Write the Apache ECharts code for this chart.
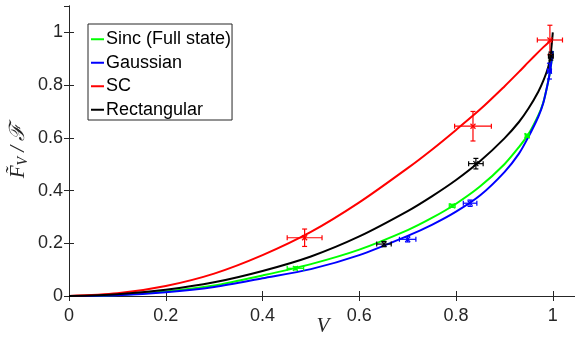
<!DOCTYPE html>
<html>
<head>
<meta charset="utf-8">
<script src="https://cdn.jsdelivr.net/npm/echarts@6/dist/echarts.min.js"></script>
<style>
  html, body { margin: 0; padding: 0; background: #fff; }
  #chart { width: 575px; height: 345px; }
</style>
</head>
<body>
<div id="chart"></div>
<script>
// curves, sampled at curveV
var curveV = [0, 0.1, 0.2, 0.3, 0.4, 0.5, 0.6, 0.7, 0.75, 0.8, 0.85, 0.9, 0.93, 0.95, 0.97, 0.98, 0.99, 0.995, 1];
var sincF = [0, 0.004, 0.017, 0.04, 0.078, 0.121, 0.176, 0.25, 0.296, 0.35, 0.416, 0.5, 0.565, 0.615, 0.685, 0.732, 0.81, 0.86, 0.93];
var gaussF = [0, 0.003, 0.014, 0.034, 0.067, 0.102, 0.155, 0.228, 0.27, 0.32, 0.382, 0.47, 0.54, 0.605, 0.68, 0.73, 0.81, 0.86, 0.93];
var scF = [0, 0.01, 0.038, 0.085, 0.155, 0.243, 0.355, 0.485, 0.555, 0.63, 0.708, 0.795, 0.85, 0.888, 0.925, 0.943, 0.96, 0.968, 0.976];
var rectF = [0, 0.007, 0.024, 0.052, 0.095, 0.15, 0.226, 0.322, 0.378, 0.44, 0.512, 0.598, 0.66, 0.712, 0.775, 0.815, 0.865, 0.908, 1.0];

// measured points with error bars
var sincPtV = [0.468, 0.792, 0.947];
var sincPtF = [0.105, 0.342, 0.608];
var sincPtVErr = [0.017, 0.006, 0.004];
var sincPtFErr = [0.006, 0.006, 0.006];

var gaussPtV = [0.70, 0.829, 0.993];
var gaussPtF = [0.215, 0.352, 0.853];
var gaussPtVErr = [0.017, 0.014, 0.004];
var gaussPtFErr = [0.01, 0.012, 0.03];

var scPtV = [0.487, 0.835, 0.994];
var scPtF = [0.221, 0.644, 0.971];
var scPtVErr = [0.036, 0.038, 0.026];
var scPtFErr = [0.033, 0.056, 0.056];

var rectPtV = [0.651, 0.841, 0.996];
var rectPtF = [0.197, 0.502, 0.91];
var rectPtVErr = [0.015, 0.015, 0.005];
var rectPtFErr = [0.01, 0.02, 0.015];

var xTicks = [0, 0.2, 0.4, 0.6, 0.8, 1];
var yTicks = [0, 0.2, 0.4, 0.6, 0.8, 1];

var names = ["Sinc (Full state)", "Gaussian", "SC", "Rectangular"];
var colors = ["#00ff00", "#0000ff", "#ff0000", "#000000"];

function pairs(xs, ys) {
    var out = [];
    for (var i = 0; i < xs.length; i++) out.push([xs[i], ys[i]]);
    return out;
}

function quads(xs, ys, dxs, dys) {
    var out = [];
    for (var i = 0; i < xs.length; i++) out.push([xs[i], ys[i], dxs[i], dys[i]]);
    return out;
}

function errorBars(color) {
    return function (params, api) {
        var x = api.value(0), y = api.value(1), dx = api.value(2), dy = api.value(3);
        var c = api.coord([x, y]);
        var l = api.coord([x - dx, y]);
        var r = api.coord([x + dx, y]);
        var t = api.coord([x, y + dy]);
        var b = api.coord([x, y - dy]);
        var cap = 2.5, m = 2.5;
        var st = { stroke: color, lineWidth: 1.2, fill: null };
        function seg(x1, y1, x2, y2) {
            return { type: "line", shape: { x1: x1, y1: y1, x2: x2, y2: y2 }, style: st };
        }
        return {
            type: "group",
            children: [
                seg(l[0], l[1], r[0], r[1]),
                seg(l[0], l[1] - cap, l[0], l[1] + cap),
                seg(r[0], r[1] - cap, r[0], r[1] + cap),
                seg(t[0], t[1], b[0], b[1]),
                seg(t[0] - cap, t[1], t[0] + cap, t[1]),
                seg(b[0] - cap, b[1], b[0] + cap, b[1]),
                seg(c[0] - m, c[1] - m, c[0] + m, c[1] + m),
                seg(c[0] - m, c[1] + m, c[0] + m, c[1] - m)
            ]
        };
    };
}

var textColor = "#262626";
var tickFont = { fontFamily: "Liberation Sans", fontSize: 18, color: textColor };

function tickText(list) {
    return function (v) {
        var r = Math.round(v * 10) / 10;
        return list.indexOf(r) >= 0 ? String(r) : "";
    };
}

function desenharGrafico() {
    var chart = echarts.init(document.getElementById("chart"), null, { renderer: "canvas" });
    var curves = [sincF, gaussF, scF, rectF];
    var points = [
        quads(sincPtV, sincPtF, sincPtVErr, sincPtFErr),
        quads(gaussPtV, gaussPtF, gaussPtVErr, gaussPtFErr),
        quads(scPtV, scPtF, scPtVErr, scPtFErr),
        quads(rectPtV, rectPtF, rectPtVErr, rectPtFErr)
    ];
    var series = [];
    for (var i = 0; i < names.length; i++) {
        series.push({
            name: names[i],
            type: "line",
            data: pairs(curveV, curves[i]),
            smooth: 0.3,
            showSymbol: false,
            color: colors[i],
            lineStyle: { width: 2, color: colors[i] },
            z: 2 + i
        });
    }
    for (var j = 0; j < names.length; j++) {
        series.push({
            name: names[j] + " data",
            type: "custom",
            renderItem: errorBars(colors[j]),
            data: points[j],
            z: 10
        });
    }
    var axisLine = { show: true, lineStyle: { color: textColor, width: 1 } };
    var option = {
        animation: false,
        backgroundColor: "#fff",
        grid: { left: 69, top: 6, right: -2, bottom: 49, containLabel: false, outerBoundsMode: "none" },
        xAxis: [
            {
                type: "value", min: 0, max: 1.05, interval: 0.2, position: "bottom",
                splitLine: { show: false }, axisLine: axisLine,
                axisTick: { inside: true, length: 5, lineStyle: { color: textColor } },
                axisLabel: Object.assign({ margin: 11, showMaxLabel: false, formatter: tickText(xTicks) }, tickFont),
                name: "V", nameLocation: "middle", nameGap: 20, nameMoveOverlap: false,
                nameTextStyle: { fontFamily: "Liberation Serif", fontStyle: "italic", fontSize: 21, color: textColor }
            },
            {
                type: "value", min: 0, max: 1.05, interval: 0.2, position: "top",
                splitLine: { show: false }, axisLine: axisLine,
                axisTick: { inside: true, length: 5, lineStyle: { color: textColor } },
                axisLabel: { show: false }
            }
        ],
        yAxis: [
            {
                type: "value", min: 0, max: 1.1, interval: 0.2, position: "left",
                splitLine: { show: false }, axisLine: axisLine,
                axisTick: { inside: true, length: 5, lineStyle: { color: textColor } },
                axisLabel: Object.assign({ margin: 6, showMaxLabel: false, formatter: tickText(yTicks) }, tickFont),
                name: "{f|F\u0303}{s|V}{f| / \u2131}",
                nameLocation: "middle", nameGap: 39, nameRotate: 90, nameMoveOverlap: false,
                nameTextStyle: {
                    color: textColor,
                    rich: {
                        f: { fontFamily: "Liberation Serif", fontStyle: "italic", fontSize: 21, lineHeight: 24, color: textColor },
                        s: { fontFamily: "Liberation Serif", fontStyle: "italic", fontSize: 14, lineHeight: 14, verticalAlign: "bottom", color: textColor }
                    }
                }
            },
            {
                type: "value", min: 0, max: 1.1, interval: 0.2, position: "right",
                splitLine: { show: false }, axisLine: axisLine,
                axisTick: { inside: true, length: 5, lineStyle: { color: textColor } },
                axisLabel: { show: false }
            }
        ],
        legend: {
            data: names,
            orient: "vertical",
            left: 88, top: 24,
            icon: "rect", itemWidth: 13, itemHeight: 2, itemGap: 5,
            padding: [6, 1, 1, 3],
            backgroundColor: "#fff",
            borderColor: textColor, borderWidth: 1, borderRadius: 0,
            selectedMode: false,
            textStyle: { fontFamily: "Liberation Sans", fontSize: 18, lineHeight: 18.5, color: "#000", padding: [0, 0, 0, -3] }
        },
        series: series
    };
    chart.setOption(option);
}

desenharGrafico();
</script>
</body>
</html>
